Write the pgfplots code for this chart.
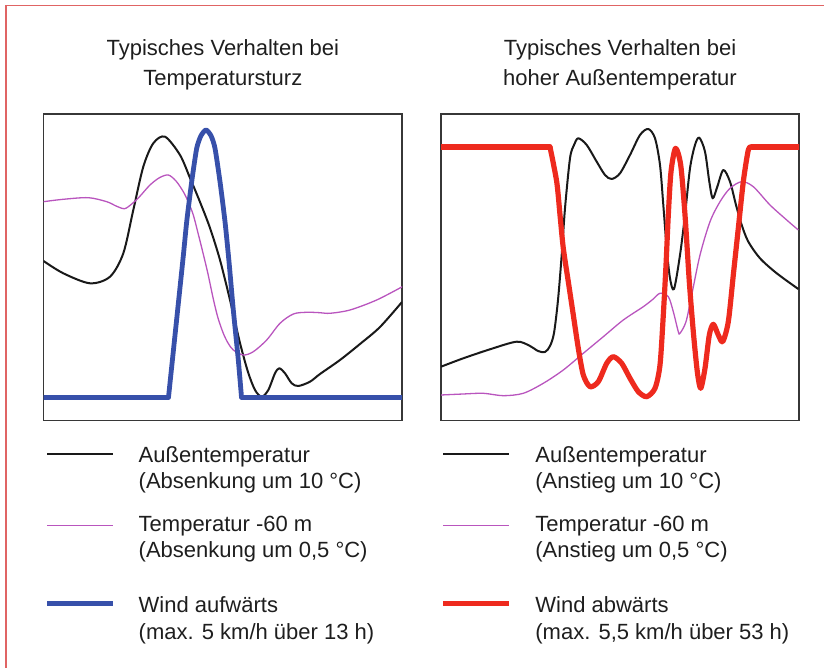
\documentclass[border=0pt]{standalone}
\usepackage{fontspec}
\setmainfont{Liberation Sans}
\usepackage{pgfplots}
\pgfplotsset{compat=1.18}

\definecolor{framered}{RGB}{224,100,100}
\definecolor{boxgray}{RGB}{55,55,55}
\definecolor{tempblack}{RGB}{25,25,25}
\definecolor{deeppurple}{RGB}{185,85,190}
\definecolor{windblue}{RGB}{55,80,170}
\definecolor{windred}{RGB}{238,42,30}
\definecolor{txt}{RGB}{30,30,30}

\pgfplotsset{
  panel/.style={
    scale only axis,
    width=179.25pt, height=153.35pt,
    xmin=0, xmax=358.5, ymin=0, ymax=306.7,
    xtick=\empty, ytick=\empty,
    axis line style={boxgray, line width=0.8pt},
    anchor=south west,
  },
  outside/.style={tempblack, line width=1pt, smooth, tension=0.5, line join=round},
  depth60/.style={deeppurple, line width=0.65pt, smooth, tension=0.5, line join=round},
  windup/.style={windblue, line width=2.4pt, line join=round, line cap=round},
  winddown/.style={windred, line width=2.6pt, line join=round, line cap=round},
}

\begin{document}
\begin{tikzpicture}
\begin{scope}[x=0.5pt, y=0.5pt]
  \useasboundingbox (0,0) rectangle (824,668);
  % outer frame (top and left edges)
  \draw[framered, line width=0.8pt] (5.7,-5) -- (5.7,662.3) -- (830,662.3);

  % titles
  \begin{scope}[every node/.style={anchor=base, inner sep=0pt, text=txt,
      font=\fontsize{11pt}{13pt}\selectfont}]
    \node at (222.8,612) {Typisches Verhalten bei};
    \node at (222.8,582) {Temperatursturz};
    \node at (620,612) {Typisches Verhalten bei};
    \node at (620,582) {hoher Außentemperatur};
  \end{scope}

  % legend, left
  \draw[tempblack, line width=0.6pt] (47.3,214) -- (113.3,214);
  \draw[deeppurple, line width=0.6pt] (47.3,142.3) -- (113.3,142.3);
  \draw[windblue, line width=2.4pt] (47.3,64.7) -- (113.3,64.7);
  % legend, right
  \draw[tempblack, line width=0.6pt] (443.3,214) -- (509,214);
  \draw[deeppurple, line width=0.6pt] (443.3,142.3) -- (509,142.3);
  \draw[windred, line width=2.6pt] (443.3,64.7) -- (509,64.7);

  \begin{scope}[every node/.style={anchor=base west, inner sep=0pt, text=txt,
      font=\fontsize{11pt}{13pt}\selectfont}]
    \node at (138.3,205.7) {Außentemperatur};
    \node at (138.3,179.7) {(Absenkung um 10 °C)};
    \node at (138.3,136.3) {Temperatur -60 m};
    \node at (138.3,110.3) {(Absenkung um 0,5 °C)};
    \node at (138.3,55.3) {Wind aufwärts};
    \node at (138.3,28) {(max. 5 km/h über 13 h)};
    \node at (535,205.7) {Außentemperatur};
    \node at (535,179.7) {(Anstieg um 10 °C)};
    \node at (535,136.3) {Temperatur -60 m};
    \node at (535,110.3) {(Anstieg um 0,5 °C)};
    \node at (535,55.3) {Wind abwärts};
    \node at (535,28) {(max. 5,5 km/h über 53 h)};
  \end{scope}
\end{scope}

% ---------- temperature drop ----------
\begin{axis}[panel, at={(21.75pt,123.65pt)}]
  \addplot[outside] coordinates {
    (0,159.7) (19.8,147.4) (46.5,137.4) (66.5,144) (79.8,167.4)
    (89.8,210.7) (99.8,254) (109.8,277.4) (121.5,284) (136.5,265.7)
    (146.5,242.7) (156.5,218.7) (166.5,192.7) (176.5,160.7) (186.5,120.7)
    (196.5,77.7) (204.5,48.7) (211.5,30.7) (218.2,24) (224.8,30.7)
    (231.5,47.4) (235.8,52.4) (241.5,47.4) (248.2,37.4) (254.8,34.7)
    (266.5,39) (276.5,46.7) (296.5,60.7) (316.5,76.7) (336.5,93.7)
    (358.5,118.7)
  };
  \addplot[depth60] coordinates {
    (0,219) (19.8,221.4) (44.8,223) (63.2,219) (73,214.5) (81,212)
    (88,216.5) (96,224) (106.5,235.7) (116,243) (124.8,245.7) (132.5,239.7)
    (139.8,229) (145,218.2) (149.8,205.7) (154.5,187.7) (159.5,167.7)
    (164.5,146.7) (169.8,121.7) (174.5,102.7) (179.8,87.4) (184.5,77.7)
    (189.8,70.7) (199.8,65.7) (209.8,69) (223.2,80.7) (236.5,97.4)
    (249.8,106.7) (263.2,108.4) (276.5,108) (286.5,107.4) (306.5,110.7)
    (333.2,120.7) (358.8,134)
  };
  \addplot[windup] coordinates {(-5,23.5) (125,23.5)};
  \addplot[windup, smooth, tension=0.4] coordinates {
    (125,23.5) (139.2,159) (143.2,199) (148.2,239) (153.2,272.4) (157.5,285)
    (162.5,290.7) (167.5,285) (171.5,272.4) (176.5,239) (181.5,199)
    (185.5,159) (189.8,110.7) (194.8,60.7) (198,23.5)
  };
  \addplot[windup] coordinates {(198,23.5) (365,23.5)};
\end{axis}

% ---------- high outside temperature ----------
\begin{axis}[panel, at={(220.5pt,123.65pt)}, width=179pt, xmax=358]
  \addplot[outside] coordinates {
    (0,54) (22.3,62.4) (49,71.4) (75.7,79) (89,74.7) (97,69.7) (104,68.7)
    (109,74.7) (113,87.7) (117,120.7) (120.7,165.7) (124,212.4) (129,262.4)
    (133,275.7) (137.3,282.4) (145.7,275.7) (155.7,259) (164,245.7)
    (170.7,241.7) (179,247.4) (189,265.7) (199,285.7) (207.3,291.7)
    (214,282.4) (219,255.7) (222.3,215.7) (225.7,172.4) (229,142.4)
    (233,131.7) (239,165.7) (244,205.7) (249,252.4) (254,275.7) (258.3,283)
    (264,269) (268.3,239) (271.7,222.4) (276.3,234) (282.3,250.7) (289,239)
    (295,215.7) (300.7,195.7) (307.3,179) (319,162.4) (335.7,147.4)
    (357.3,131.7)
  };
  \addplot[depth60] coordinates {
    (0,25.7) (22.3,26.7) (42.3,27.4) (62.3,25) (82.3,27.4) (102.3,37.4)
    (122.3,50.7) (142.3,67.4) (162.3,84) (182.3,100.7) (202.3,114)
    (212,121.5) (219,127.4) (227.3,124) (232.3,109) (237.3,89) (239,87.4)
    (245,99) (250.7,125.7) (259,165.7) (269,199) (279,219) (289,232.4)
    (300.7,239) (312.3,234) (329,215.7) (345.7,200.7) (357.3,190.7)
  };
  \addplot[winddown] coordinates {(-5,273.7) (109,273.7)};
  \addplot[winddown, smooth, tension=0.45] coordinates {
    (109,273.7) (115.7,239) (119,205.7) (122.3,172.4) (127.3,139)
    (132.3,105.7) (137.3,72.4) (142.3,45.7) (149,34) (157.3,39) (165.7,57.4)
    (172.3,64) (180.7,57.4) (189,42.4) (197.3,29) (205.7,24) (214,32.4)
    (219,55.7) (222.3,105.7) (225,155.7) (227.3,205.7) (230,249)
    (234.5,272.4) (239.7,255.7) (244,205.7) (248.3,139) (252.3,89)
    (256.3,49) (259.7,32.4) (264,52.4) (268.3,85.7) (272.3,96.4) (277.3,85.7)
    (281.7,79) (287.3,99) (292.3,145.7) (297.3,192.4) (302.3,239)
    (307.3,270.7) (310.7,273.7)
  };
  \addplot[winddown] coordinates {(310.7,273.7) (365,273.7)};
\end{axis}
\end{tikzpicture}
\end{document}
